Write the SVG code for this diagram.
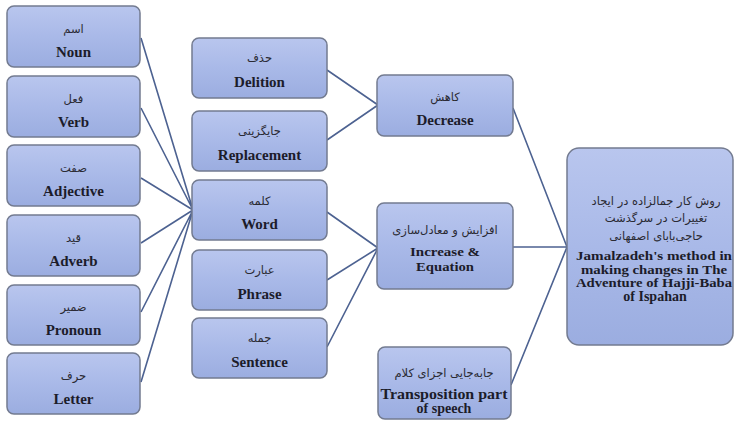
<svg xmlns="http://www.w3.org/2000/svg" width="738" height="431" viewBox="0 0 738 431">
<defs>
<linearGradient id="g" x1="0" y1="0" x2="0" y2="1">
<stop offset="0" stop-color="#b9c6ee"/>
<stop offset="0.5" stop-color="#a9b9e8"/>
<stop offset="1" stop-color="#9badE0"/>
</linearGradient>
<style>
.box{fill:url(#g);stroke:#737b90;stroke-width:1.5}
.ar{font-family:"DejaVu Sans","Noto Sans",sans-serif;font-size:11.5px;fill:#2a2a33;text-anchor:middle}
.en{font-family:"Liberation Serif","DejaVu Serif",serif;font-size:15px;font-weight:bold;fill:#1c1c2a;text-anchor:middle}
.en3{font-family:"Liberation Serif","DejaVu Serif",serif;font-size:14px;font-weight:bold;fill:#1c1c2a;text-anchor:middle}
.en4{font-family:"Liberation Serif","DejaVu Serif",serif;font-size:13px;font-weight:bold;fill:#1c1c2a;text-anchor:middle}
.en2{font-family:"Liberation Serif","DejaVu Serif",serif;font-size:12.5px;font-weight:bold;fill:#1c1c2a;text-anchor:middle}
.c{stroke:#4d6291;stroke-width:1.6;fill:none}
</style>
</defs>
<rect width="738" height="431" fill="#ffffff"/>
<g id="connectors">
<path class="c" d="M141 38L193 210M141 108L193 210M141 178L193 210M141 243L193 210M141 312L193 210M141 382L193 210"/>
<path class="c" d="M327 70L378 105M327 140L378 105M327 212L378 248M327 280L378 248M327 347L378 248"/>
<path class="c" d="M513 108L567 247M513 247L567 247M511 385L567 247"/>
</g>
<g id="noun"><rect class="box" x="7" y="6" width="133" height="61" rx="7"/><text class="ar" x="73.5" y="33">اسم</text><text class="en" x="73.5" y="57">Noun</text></g>
<g id="verb"><rect class="box" x="7" y="76" width="133" height="61" rx="7"/><text class="ar" x="73.5" y="103">فعل</text><text class="en" x="73.5" y="127">Verb</text></g>
<g id="adjective"><rect class="box" x="7" y="145" width="133" height="61" rx="7"/><text class="ar" x="73.5" y="172">صفت</text><text class="en" x="73.5" y="196">Adjective</text></g>
<g id="adverb"><rect class="box" x="7" y="215" width="133" height="61" rx="7"/><text class="ar" x="73.5" y="242">قید</text><text class="en" x="73.5" y="266">Adverb</text></g>
<g id="pronoun"><rect class="box" x="7" y="285" width="133" height="60" rx="7"/><text class="ar" x="73.5" y="311">ضمیر</text><text class="en" x="73.5" y="335">Pronoun</text></g>
<g id="letter"><rect class="box" x="7" y="353" width="133" height="61" rx="7"/><text class="ar" x="73.5" y="380">حرف</text><text class="en" x="73.5" y="404">Letter</text></g>
<g id="delition"><rect class="box" x="192" y="38" width="135" height="60" rx="7"/><text class="ar" x="259.5" y="62">حذف</text><text class="en" x="259.5" y="87">Delition</text></g>
<g id="replacement"><rect class="box" x="192" y="111" width="135" height="60" rx="7"/><text class="ar" x="259.5" y="135">جایگزینی</text><text class="en" x="259.5" y="160">Replacement</text></g>
<g id="word"><rect class="box" x="192" y="180" width="135" height="60" rx="7"/><text class="ar" x="259.5" y="205">کلمه</text><text class="en" x="259.5" y="229">Word</text></g>
<g id="phrase"><rect class="box" x="192" y="250" width="135" height="60" rx="7"/><text class="ar" x="259.5" y="274">عبارت</text><text class="en" x="259.5" y="299">Phrase</text></g>
<g id="sentence"><rect class="box" x="192" y="318" width="135" height="60" rx="7"/><text class="ar" x="259.5" y="342">جمله</text><text class="en" x="259.5" y="367">Sentence</text></g>
<g id="decrease"><rect class="box" x="377" y="75" width="136" height="61" rx="7"/><text class="ar" x="445" y="101">کاهش</text><text class="en" x="445" y="125">Decrease</text></g>
<g id="increase"><rect class="box" x="377" y="203" width="136" height="86" rx="7"/><text class="ar" x="445" y="234">افزایش و معادل&#x200C;سازی</text><text class="en4" x="445" y="256" textLength="70" lengthAdjust="spacingAndGlyphs">Increase &amp;</text><text class="en4" x="445" y="271" textLength="58" lengthAdjust="spacingAndGlyphs">Equation</text></g>
<g id="transposition"><rect class="box" x="378" y="347" width="133" height="72" rx="7"/><text class="ar" x="444" y="377">جابه&#x200C;جایی اجزای کلام</text><text class="en3" x="444" y="399" textLength="127" lengthAdjust="spacingAndGlyphs">Transposition part</text><text class="en3" x="444" y="413">of speech</text></g>
<g id="method"><rect class="box" x="567" y="148" width="166" height="197" rx="12"/>
<text class="ar" x="656" y="205">روش کار جمالزاده در ایجاد</text>
<text class="ar" x="656" y="222">تغییرات در سرگذشت</text>
<text class="ar" x="656" y="240">حاجی&#x200C;بابای اصفهانی</text>
<text class="en2" x="654" y="260" textLength="156" lengthAdjust="spacingAndGlyphs">Jamalzadeh's method in</text>
<text class="en2" x="654" y="273.7" textLength="146" lengthAdjust="spacingAndGlyphs">making changes in The</text>
<text class="en2" x="654" y="287.3" textLength="156" lengthAdjust="spacingAndGlyphs">Adventure  of Hajji-Baba</text>
<text class="en3" x="655" y="301">of Ispahan</text>
</g>
</svg>
